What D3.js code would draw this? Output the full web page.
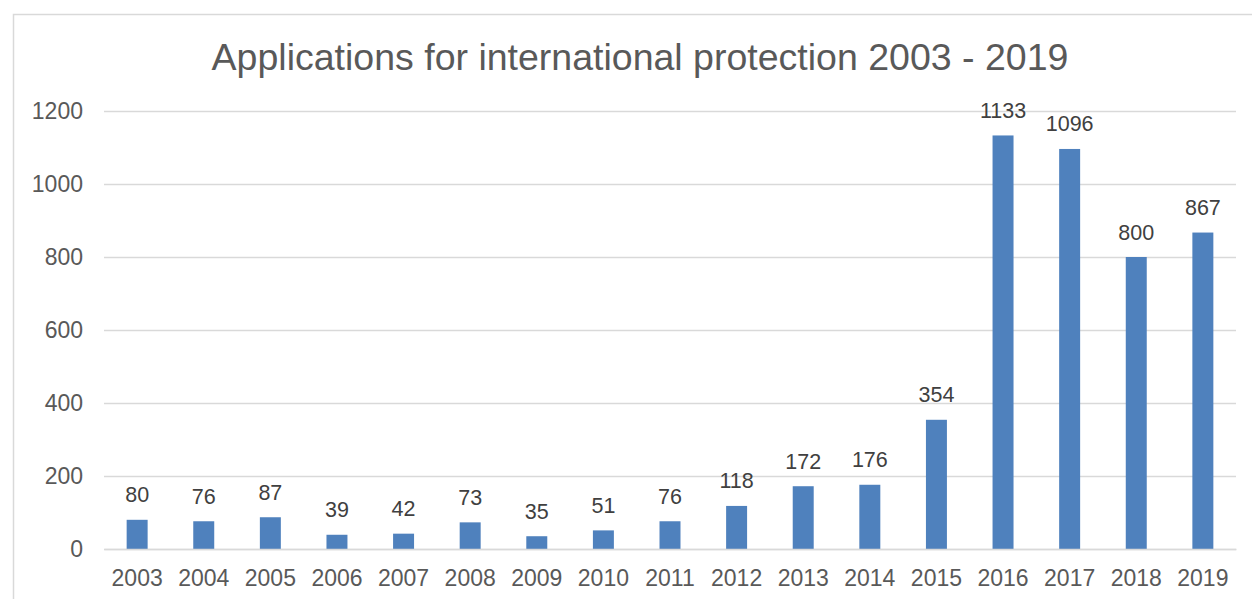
<!DOCTYPE html>
<html>
<head>
<meta charset="utf-8">
<script src="https://cdn.jsdelivr.net/npm/d3@7"></script>
<style>
  body { margin: 0; background: #fff; }
  svg text { font-family: 'Liberation Sans', Arial, sans-serif; }
</style>
</head>
<body>
<div class="chart"></div>
<script>
const years = ['2003', '2004', '2005', '2006', '2007', '2008', '2009', '2010', '2011', '2012', '2013', '2014', '2015', '2016', '2017', '2018', '2019']
const applications = [80, 76, 87, 39, 42, 73, 35, 51, 76, 118, 172, 176, 354, 1133, 1096, 800, 867]
const yTicks = [0, 200, 400, 600, 800, 1000, 1200]
const title = 'Applications for international protection 2003 - 2019'

const W = 1252
const H = 599
const margin = {top: 111, right: 16, bottom: 50, left: 104}
const width = W - margin.left - margin.right
const height = H - margin.top - margin.bottom

const svg = d3.select('.chart').append('svg')
  .attr('width', W)
  .attr('height', H)

// chart frame
svg.append('rect')
  .attr('x', 13.5).attr('y', 14.5)
  .attr('width', W + 20).attr('height', H + 20)
  .attr('fill', 'none')
  .attr('stroke', '#d9d9d9')
  .attr('stroke-width', 1.5)

svg.append('text')
  .attr('x', 640)
  .attr('y', 70)
  .attr('text-anchor', 'middle')
  .attr('font-size', 37.5)
  .attr('fill', '#595959')
  .text(title)

const g = svg.append('g').attr('transform', `translate(${margin.left},${margin.top})`)

const x = d3.scaleBand().domain(years).range([0, width]).paddingInner(0.685).paddingOuter(0.34)
const y = d3.scaleLinear().domain([0, 1200]).range([height, 0])

const yAxis = g.append('g')
  .call(d3.axisLeft(y).tickValues(yTicks).tickFormat(d3.format('d')).tickSize(-width).tickPadding(21))
yAxis.select('.domain').remove()
yAxis.selectAll('line').attr('stroke', '#d9d9d9').attr('stroke-width', 1.5)
yAxis.selectAll('text').attr('font-size', 23).attr('fill', '#595959')

g.selectAll('rect.bar').data(applications)
  .enter().append('rect')
  .attr('class', 'bar')
  .attr('x', (d, i) => x(years[i]))
  .attr('y', d => y(d))
  .attr('width', x.bandwidth())
  .attr('height', d => height - y(d))
  .attr('fill', '#4f81bd')

g.selectAll('text.label').data(applications)
  .enter().append('text')
  .attr('class', 'label')
  .attr('x', (d, i) => x(years[i]) + x.bandwidth() / 2)
  .attr('y', d => y(d) - 17.5)
  .attr('text-anchor', 'middle')
  .attr('font-size', 21.5)
  .attr('fill', '#404040')
  .text(d => d)

const xAxis = g.append('g')
  .attr('transform', `translate(0,${height})`)
  .call(d3.axisBottom(x).tickSize(0).tickPadding(21))
xAxis.select('.domain').attr('stroke', '#d9d9d9').attr('stroke-width', 1.5)
xAxis.selectAll('text').attr('font-size', 23).attr('fill', '#595959')
</script>
</body>
</html>
